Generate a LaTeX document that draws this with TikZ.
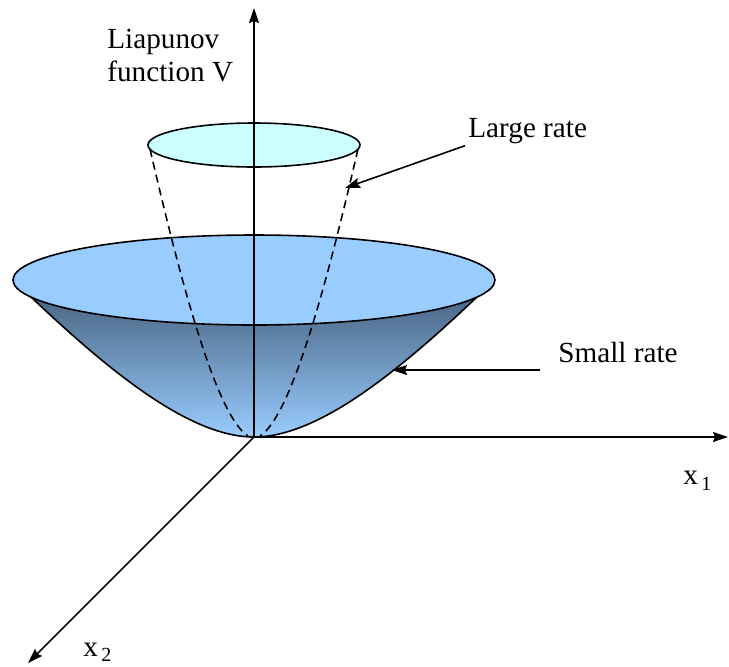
\documentclass[tikz,border=0pt]{standalone}
\usepackage{fontspec}
\setmainfont{Liberation Serif}
\usetikzlibrary{arrows.meta}

\definecolor{rimblue}{HTML}{99CCFF}
\definecolor{capcyan}{HTML}{CCFFFF}
\definecolor{bowldark}{HTML}{4A6684}

\begin{document}
\begin{tikzpicture}[x=0.5pt, y=-0.5pt, every node/.style={font=\fontsize{14.6}{16.5}\selectfont, inner sep=0pt}]

    \useasboundingbox (0,0) rectangle (729,666);

    % Key points
    \coordinate (O) at (254,437);
    \coordinate (Vtip) at (254,8);
    \coordinate (x1tip) at (728,437);
    \coordinate (x2tip) at (28,663);
    \coordinate (rimL) at (30,296);
    \coordinate (rimR) at (478,296);

    % Bowl side, shaded from dark to light
    \shade[top color=bowldark, bottom color=rimblue] (rimL) .. controls (110,372) and (190,437) .. (O)
        .. controls (318,437) and (398,372) .. (rimR) -- cycle;
    \draw[line width=0.8pt] (rimL) .. controls (110,372) and (190,437) .. (O)
        .. controls (318,437) and (398,372) .. (rimR);

    % Rim of the bowl
    \draw[line width=0.8pt, fill=rimblue] (254,280) ellipse [x radius=241, y radius=45];

    % Level set of the steep function
    \draw[line width=0.8pt, fill=capcyan] (254,145) ellipse [x radius=106, y radius=22];

    % Steep function (dashed)
    \draw[line width=0.8pt, dash pattern=on 4pt off 2.6pt] (150,149) .. controls (178,270) and (215,415) .. (248,436);
    \draw[line width=0.8pt, dash pattern=on 4pt off 2.6pt] (358,149) .. controls (330,270) and (293,415) .. (260,436);
    \coordinate (lrgtip) at (345,188);
    \coordinate (smrtip) at (392,370);

    % Axes
    \draw[-{Stealth[length=7.5pt,width=5pt,inset=1pt]}, line width=0.8pt] (O) -- (Vtip);
    \draw[-{Stealth[length=7.5pt,width=5pt,inset=1pt]}, line width=0.8pt] (O) -- (x1tip);
    \draw[-{Stealth[length=7.5pt,width=5pt,inset=1pt]}, line width=0.8pt] (O) -- (x2tip);

    % Labels
    \node[anchor=north west, align=left] (Vlabel) at (107,29) {Liapunov\\function V};
    \node[anchor=base west] (x1lab) at (683,484) {x\raisebox{-3pt}{\fontsize{10}{10}\selectfont\,1}};
    \node[anchor=base west] (x2lab) at (83,656) {x\raisebox{-2.5pt}{\fontsize{10}{10}\selectfont\,2}};
    \node[anchor=base west] (lrg) at (468,137) {Large rate};
    \node[anchor=base west] (smr) at (558,362) {Small rate};

    % Pointers
    \draw[-{Stealth[length=7.5pt,width=5pt,inset=1pt]}, line width=0.8pt] ([shift={(-3,2)}]lrg.south west) -- (lrgtip);
    \draw[-{Stealth[length=7.5pt,width=5pt,inset=1pt]}, line width=0.8pt] ([shift={(-18,8)}]smr.base west) -- (smrtip);

\end{tikzpicture}
\end{document}
